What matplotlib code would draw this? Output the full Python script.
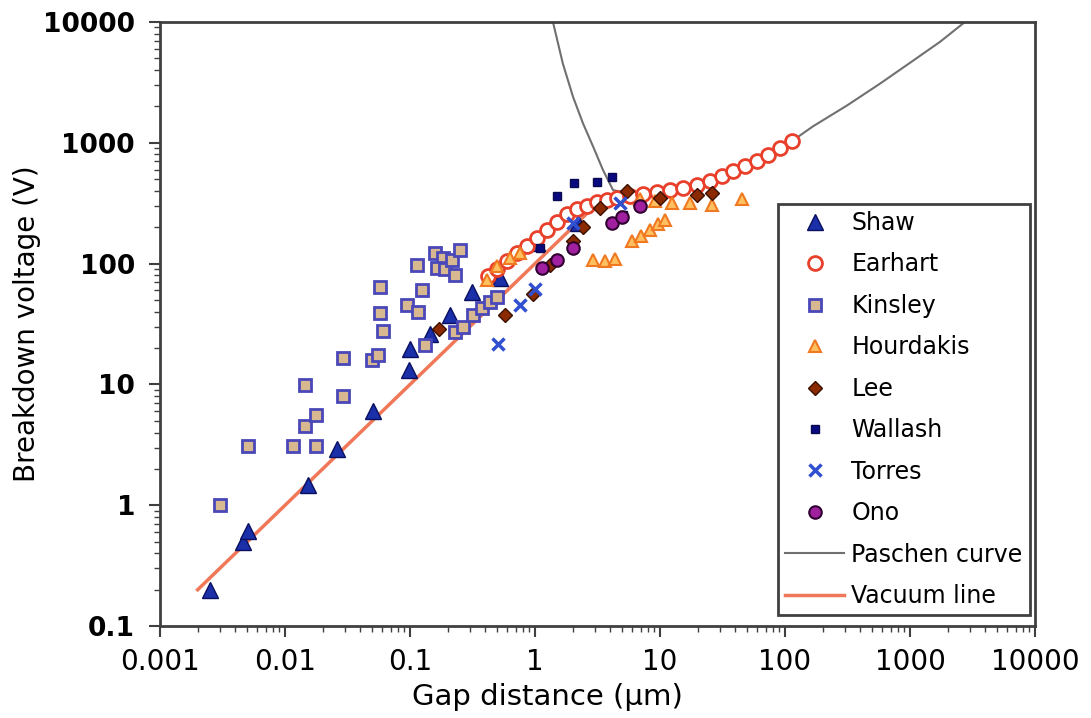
import numpy as np
import matplotlib
matplotlib.use("Agg")
import matplotlib.pyplot as plt
from matplotlib.ticker import FuncFormatter, LogLocator

# gap distance (um) / breakdown voltage (V)
shaw_x = [0.0025, 0.0046, 0.0051, 0.0153, 0.026, 0.051, 0.098, 0.10, 0.145, 0.209, 0.313, 0.525, 1.04, 2.21]
shaw_y = [0.20, 0.50, 0.61, 1.48, 2.9, 6.0, 13.1, 19.5, 25.9, 37.8, 58.6, 76.4, 148, 217]

earhart_x = [0.421, 0.497, 0.597, 0.718, 0.863, 1.04, 1.25, 1.50, 1.80, 2.17, 2.61, 3.13, 3.77, 4.53,
             5.75, 7.31, 9.46, 12.0, 15.3, 19.8, 25.1, 31.3, 38.4, 47.9, 59.7, 73.1, 91.2, 114]
earhart_y = [79, 91, 105, 123, 140, 163, 190, 221, 257, 283, 299, 323, 336, 348,
             362, 376, 390, 405, 421, 446, 481, 528, 581, 640, 703, 787, 899, 1028]

kinsley_x = [0.0030, 0.0051, 0.0116, 0.0177, 0.0145, 0.0177, 0.0145, 0.029, 0.029, 0.050, 0.0555, 0.061,
             0.0575, 0.0575, 0.095, 0.116, 0.125, 0.114, 0.158, 0.184, 0.164, 0.191, 0.217, 0.251, 0.229,
             0.132, 0.229, 0.265, 0.319, 0.377, 0.437, 0.497]
kinsley_y = [1.0, 3.1, 3.1, 3.1, 4.5, 5.6, 9.8, 8.0, 16.7, 15.8, 17.4, 27.9,
             39.3, 64.4, 45.8, 40.1, 60.8, 97.7, 123, 112, 92.3, 90.6, 107, 130, 80.9,
             21.0, 26.9, 29.6, 37.8, 43.2, 48.4, 53.3]

hourdakis_x = [0.413, 0.497, 0.631, 0.759, 2.91, 3.63, 4.37, 5.97, 7.05, 8.32, 9.64, 11.0,
               6.92, 9.12, 12.5, 17.4, 26.1, 45.3]
hourdakis_y = [73.6, 95.9, 112, 123, 107, 105, 110, 154, 169, 190, 213, 230,
               342, 329, 317, 317, 305, 342]

lee_x = [0.171, 0.575, 0.964, 1.32, 2.01, 2.42, 3.31, 5.44, 10.0, 19.8, 26.1]
lee_y = [28.5, 37.8, 56.4, 97.7, 154, 201, 288, 398, 348, 369, 383]

wallash_x = [1.10, 1.50, 2.05, 3.13, 4.13, 5.06]
wallash_y = [135, 362, 463, 472, 519, 252]

torres_x = [0.506, 0.759, 1.0, 2.01, 4.79]
torres_y = [21.4, 45.8, 61.9, 217, 317]

ono_x = [1.14, 1.50, 2.01, 4.13, 4.97, 6.92]
ono_y = [92.3, 107, 135, 217, 243, 299]

paschen_x = [1.39, 1.67, 2.01, 2.42, 2.91, 3.50, 4.21, 8.32, 20.9, 52.5, 116, 167, 313, 575, 1057, 1738, 2754]
paschen_y = [10000, 4510, 2410, 1445, 933, 593, 405, 355, 421, 652, 1047, 1365, 2033, 3083, 4775, 6840, 10000]

vacuum_x = [0.002, 3.0]
vacuum_y = [0.2, 300]

fig = plt.figure(figsize=(10.91, 7.18), dpi=100)
ax = fig.add_axes([0.1467, 0.128, 0.802, 0.8415])

ax.plot(shaw_x, shaw_y, '^', ms=12, color='#1a2fa8', mec='#0a1060', mew=1, label='Shaw', zorder=3)
ax.plot(earhart_x, earhart_y, 'o', ms=10, mfc='white', mec='#e8402a', mew=2, label='Earhart', zorder=3)
ax.plot(kinsley_x, kinsley_y, 's', ms=8, mfc='#d8b890', mec='#4a48b8', mew=2, label='Kinsley', zorder=3)
ax.plot(hourdakis_x, hourdakis_y, '^', ms=9, mfc='#ffc060', mec='#f07820', mew=1.5, label='Hourdakis', zorder=4)
ax.plot(lee_x, lee_y, 'D', ms=7, color='#8b2a00', mec='#3a1000', mew=1, label='Lee', zorder=4)
ax.plot(wallash_x, wallash_y, 's', ms=6, color='#0a0a80', mec='#0a0a50', label='Wallash', zorder=4)
ax.plot(torres_x, torres_y, 'x', ms=9, color='#3050d0', mew=2.5, label='Torres', zorder=4)
ax.plot(ono_x, ono_y, 'o', ms=9, color='#a020a0', mec='#300030', mew=1.5, label='Ono', zorder=4)
ax.plot(paschen_x, paschen_y, '-', color='#707070', lw=1.5, label='Paschen curve', zorder=2)
ax.plot(vacuum_x, vacuum_y, '-', color='#f07858', lw=2.5, label='Vacuum line', zorder=2)

ax.set_xscale('log')
ax.set_yscale('log')
ax.set_xlim(0.001, 10000)
ax.set_ylim(0.1, 10000)

fmt = FuncFormatter(lambda v, p: '{:g}'.format(v))
ax.xaxis.set_major_formatter(fmt)
ax.yaxis.set_major_formatter(fmt)
ax.xaxis.set_minor_locator(LogLocator(base=10, subs=np.arange(2, 10)))
ax.yaxis.set_minor_locator(LogLocator(base=10, subs=np.arange(2, 10)))

for s in ax.spines.values():
    s.set_color('#404040')
    s.set_linewidth(2)
ax.tick_params(which='major', direction='out', length=8, width=1.5, color='#404040')
ax.tick_params(which='minor', direction='out', length=4, width=1, color='#404040')
ax.tick_params(axis='x', labelsize=20, pad=8)
ax.tick_params(axis='y', labelsize=19, pad=10)
for t in ax.get_yticklabels():
    t.set_fontweight('bold')

ax.set_xlabel('Gap distance (μm)', fontsize=21)
ax.xaxis.set_label_coords(0.443, -0.095)
ax.set_ylabel('Breakdown voltage (V)', fontsize=20)
ax.yaxis.set_label_coords(-0.136, 0.5)

leg = ax.legend(loc='lower right', bbox_to_anchor=(0.994, 0.018), borderaxespad=0,
                fontsize=17, labelspacing=0.74, handlelength=2.5, handletextpad=0.3,
                fancybox=False, edgecolor='#404040', framealpha=1, borderpad=0.3)
leg.get_frame().set_linewidth(2)

plt.savefig('out.png', dpi=100)
